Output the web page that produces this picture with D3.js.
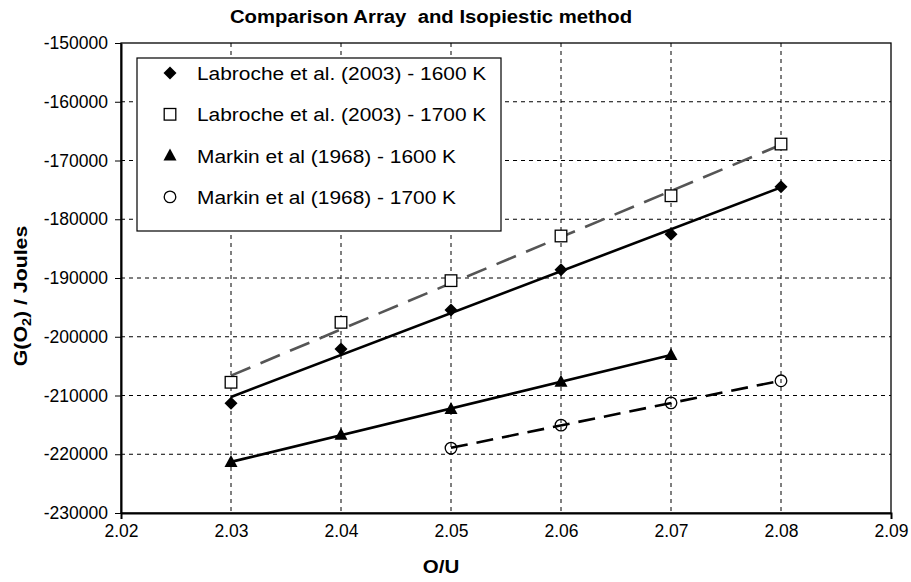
<!DOCTYPE html>
<html>
<head>
<meta charset="utf-8">
<script src="https://cdn.jsdelivr.net/npm/d3@7/dist/d3.min.js"></script>
<style>
  html, body { margin: 0; padding: 0; background: #fff; }
  svg { display: block; font-family: Arial, "Liberation Sans", Helvetica, sans-serif; }
</style>
</head>
<body>
<svg id="chart" width="911" height="582"></svg>
<script>
// O/U ratios and free energy of oxygen G(O2) in joules
const xTicks = [2.02, 2.03, 2.04, 2.05, 2.06, 2.07, 2.08, 2.09];
const yTicks = [-150000, -160000, -170000, -180000, -190000, -200000, -210000, -220000, -230000];

const labroche1600X = [2.03, 2.04, 2.05, 2.06, 2.07, 2.08];
const labroche1600Y = [-211300, -202100, -195450, -188600, -182550, -174450];

const labroche1700X = [2.03, 2.04, 2.05, 2.06, 2.07, 2.08];
const labroche1700Y = [-207750, -197550, -190450, -182850, -176000, -167200];

const markin1600X = [2.03, 2.04, 2.05, 2.06, 2.07];
const markin1600Y = [-221300, -216700, -212300, -207650, -203100];

const markin1700X = [2.05, 2.06, 2.07, 2.08];
const markin1700Y = [-218950, -215050, -211250, -207500];

const seriesNames = [
  "Labroche et al. (2003) - 1600 K",
  "Labroche et al. (2003) - 1700 K",
  "Markin et al (1968) - 1600 K",
  "Markin et al (1968) - 1700 K"
];

const series = [
  { name: seriesNames[0], xs: labroche1600X, ys: labroche1600Y, symbol: "diamond", line: "#000", dash: null },
  { name: seriesNames[1], xs: labroche1700X, ys: labroche1700Y, symbol: "square", line: "#555", dash: "21,11" },
  { name: seriesNames[2], xs: markin1600X, ys: markin1600Y, symbol: "triangle", line: "#000", dash: null },
  { name: seriesNames[3], xs: markin1700X, ys: markin1700Y, symbol: "circle", line: "#000", dash: "17,9" }
];

const svg = d3.select("#chart");
const plotL = 121, plotR = 891, plotT = 43, plotB = 513;

const x = d3.scaleLinear().domain([2.02, 2.09]).range([plotL, plotR]);
const y = d3.scaleLinear().domain([-230000, -150000]).range([plotB, plotT]);

// dashed grid
const grid = svg.append("g");
grid.selectAll("line.v").data(xTicks.slice(1, -1)).join("line")
  .attr("x1", d => x(d)).attr("x2", d => x(d))
  .attr("y1", plotT).attr("y2", plotB)
  .attr("stroke", "#000").attr("stroke-width", 1).attr("stroke-dasharray", "4,4");
grid.selectAll("line.h").data(yTicks.slice(1, -1)).join("line")
  .attr("x1", plotL).attr("x2", plotR)
  .attr("y1", d => y(d)).attr("y2", d => y(d))
  .attr("stroke", "#000").attr("stroke-width", 1).attr("stroke-dasharray", "4,4");

// frame
svg.append("rect").attr("x", plotL).attr("y", plotT)
  .attr("width", plotR - plotL).attr("height", plotB - plotT)
  .attr("fill", "none").attr("stroke", "#000").attr("stroke-width", 1.3);

// axes
const xAxis = svg.append("g").attr("transform", `translate(0,${plotB})`)
  .call(d3.axisBottom(x).tickValues(xTicks).tickFormat(d => d.toFixed(2))
    .tickSizeInner(0).tickSizeOuter(6).tickPadding(12));
xAxis.select(".domain").attr("stroke-width", 2);
xAxis.selectAll("text").attr("font-size", 17.5).attr("fill", "#000")
  .attr("font-family", "Arial, 'Liberation Sans', sans-serif");

const yAxis = svg.append("g").attr("transform", `translate(${plotL},0)`)
  .call(d3.axisLeft(y).tickValues(yTicks).tickFormat(d => String(d))
    .tickSizeInner(6).tickSizeOuter(0).tickPadding(7));
yAxis.select(".domain").attr("stroke-width", 2);
yAxis.selectAll("text").attr("font-size", 17.5).attr("fill", "#000")
  .attr("font-family", "Arial, 'Liberation Sans', sans-serif");

// linear trend lines over each series' x-span
function fit(xs, ys) {
  const mx = d3.mean(xs), my = d3.mean(ys);
  const b = d3.sum(xs, (v, i) => (v - mx) * (ys[i] - my)) / d3.sum(xs, v => (v - mx) * (v - mx));
  return v => my + b * (v - mx);
}

function drawSymbol(g, kind, cx, cy) {
  if (kind === "diamond") {
    g.append("path").attr("d", `M${cx},${cy - 6.5}L${cx + 6.5},${cy}L${cx},${cy + 6.5}L${cx - 6.5},${cy}Z`)
      .attr("fill", "#000");
  } else if (kind === "square") {
    g.append("rect").attr("x", cx - 5.8).attr("y", cy - 5.8).attr("width", 11.6).attr("height", 11.6)
      .attr("fill", "#fff").attr("stroke", "#000").attr("stroke-width", 1.3);
  } else if (kind === "triangle") {
    g.append("path").attr("d", `M${cx},${cy - 7}L${cx + 6.5},${cy + 5}L${cx - 6.5},${cy + 5}Z`)
      .attr("fill", "#000");
  } else {
    g.append("circle").attr("cx", cx).attr("cy", cy).attr("r", 5.8)
      .attr("fill", "none").attr("stroke", "#000").attr("stroke-width", 1.3);
  }
}

const marks = svg.append("g");
series.forEach(s => {
  const f = fit(s.xs, s.ys);
  const x0 = d3.min(s.xs), x1 = d3.max(s.xs);
  marks.append("line")
    .attr("x1", x(x0)).attr("y1", y(f(x0)))
    .attr("x2", x(x1)).attr("y2", y(f(x1)))
    .attr("stroke", s.line).attr("stroke-width", 2.6)
    .attr("stroke-dasharray", s.dash);
});
series.forEach(s => {
  const g = marks.append("g");
  s.xs.forEach((v, i) => drawSymbol(g, s.symbol, x(v), y(s.ys[i])));
});

// legend
const legend = svg.append("g");
legend.append("rect").attr("x", 137).attr("y", 58).attr("width", 364).attr("height", 173)
  .attr("fill", "#fff").attr("stroke", "#000").attr("stroke-width", 1.2);
series.forEach((s, i) => {
  const cy = 73 + i * 41.3;
  drawSymbol(legend, s.symbol, 170, cy);
  legend.append("text").attr("transform", `translate(197,${cy + 7}) scale(1.1,1)`)
    .attr("font-size", 19).attr("fill", "#000").text(s.name);
});

// titles
svg.append("text").attr("transform", "translate(431,23) scale(1.07,1)")
  .attr("text-anchor", "middle")
  .attr("font-size", 19).attr("font-weight", "bold")
  .style("white-space", "pre")
  .text("Comparison Array  and Isopiestic method");

svg.append("text").attr("transform", "translate(441,573) scale(1.08,1)")
  .attr("text-anchor", "middle")
  .attr("font-size", 19).attr("font-weight", "bold").text("O/U");

const yTitle = svg.append("text")
  .attr("transform", "translate(27,296) rotate(-90) scale(1.12,1)")
  .attr("text-anchor", "middle").attr("font-size", 19).attr("font-weight", "bold");
yTitle.append("tspan").text("G(O");
yTitle.append("tspan").attr("font-size", 13).attr("dy", 4).text("2");
yTitle.append("tspan").attr("dy", -4).text(") / Joules");
</script>
</body>
</html>
